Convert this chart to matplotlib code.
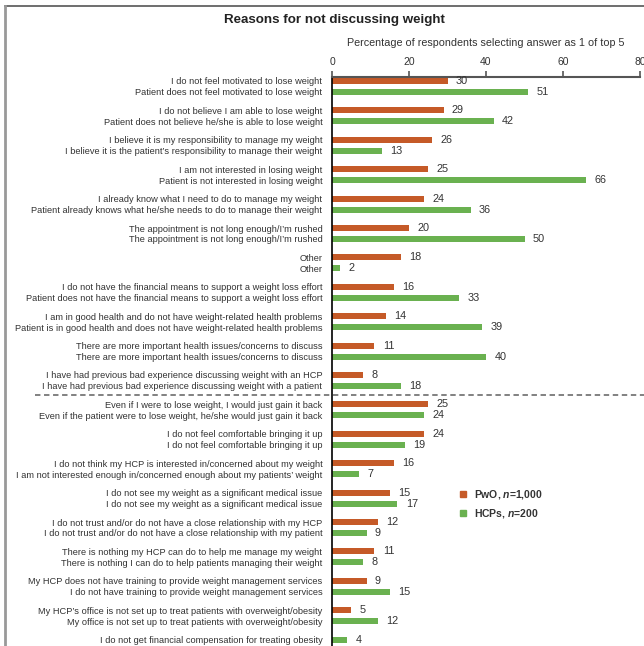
import matplotlib
matplotlib.use("Agg")
import matplotlib.pyplot as plt
from matplotlib.lines import Line2D
from matplotlib.transforms import blended_transform_factory

plt.rcParams["font.family"] = ["Liberation Sans", "DejaVu Sans"]
plt.rcParams["mathtext.fontset"] = "custom"
plt.rcParams["mathtext.it"] = "Liberation Sans:italic:bold"
plt.rcParams["mathtext.rm"] = "Liberation Sans:bold"

pwo_labels = [
    "I do not feel motivated to lose weight",
    "I do not believe I am able to lose weight",
    "I believe it is my responsibility to manage my weight",
    "I am not interested in losing weight",
    "I already know what I need to do to manage my weight",
    "The appointment is not long enough/I’m rushed",
    "Other",
    "I do not have the financial means to support a weight loss effort",
    "I am in good health and do not have weight-related health problems",
    "There are more important health issues/concerns to discuss",
    "I have had previous bad experience discussing weight with an HCP",
    "Even if I were to lose weight, I would just gain it back",
    "I do not feel comfortable bringing it up",
    "I do not think my HCP is interested in/concerned about my weight",
    "I do not see my weight as a significant medical issue",
    "I do not trust and/or do not have a close relationship with my HCP",
    "There is nothing my HCP can do to help me manage my weight",
    "My HCP does not have training to provide weight management services",
    "My HCP’s office is not set up to treat patients with overweight/obesity",
    None,
]
hcp_labels = [
    "Patient does not feel motivated to lose weight",
    "Patient does not believe he/she is able to lose weight",
    "I believe it is the patient’s responsibility to manage their weight",
    "Patient is not interested in losing weight",
    "Patient already knows what he/she needs to do to manage their weight",
    "The appointment is not long enough/I’m rushed",
    "Other",
    "Patient does not have the financial means to support a weight loss effort",
    "Patient is in good health and does not have weight-related health problems",
    "There are more important health issues/concerns to discuss",
    "I have had previous bad experience discussing weight with a patient",
    "Even if the patient were to lose weight, he/she would just gain it back",
    "I do not feel comfortable bringing it up",
    "I am not interested enough in/concerned enough about my patients’ weight",
    "I do not see my weight as a significant medical issue",
    "I do not trust and/or do not have a close relationship with my patient",
    "There is nothing I can do to help patients managing their weight",
    "I do not have training to provide weight management services",
    "My office is not set up to treat patients with overweight/obesity",
    "I do not get financial compensation for treating obesity",
]
pwo_values = [30, 29, 26, 25, 24, 20, 18, 16, 14, 11, 8,
              25, 24, 16, 15, 12, 11, 9, 5, None]
hcp_values = [51, 42, 13, 66, 36, 50, 2, 33, 39, 40, 18,
              24, 19, 7, 17, 9, 8, 15, 12, 4]
x_ticks = [0, 20, 40, 60, 80]

ORANGE = "#C55A28"
GREEN = "#6AB150"
TEXT = "#333333"
gap = 0.374     # distance between the PwO and HCP bar of one reason
bar_h = 0.21

fig = plt.figure(figsize=(6.44, 6.46), dpi=100)
ax = fig.add_axes([332 / 644, 0, 308 / 644, 1 - 77 / 646])

ytick_pos, ytick_lab = [], []
for i in range(len(hcp_values)):
    if pwo_values[i] is not None:
        y_hcp = i + gap
        ax.barh(i, pwo_values[i], height=bar_h, color=ORANGE)
        ax.annotate(str(pwo_values[i]), (pwo_values[i], i), xytext=(6, 0),
                    textcoords="offset points", va="center", ha="left",
                    fontsize=7.8, color=TEXT)
        ytick_pos.append(i)
        ytick_lab.append(pwo_labels[i])
    else:
        y_hcp = i
    ax.barh(y_hcp, hcp_values[i], height=bar_h, color=GREEN)
    ax.annotate(str(hcp_values[i]), (hcp_values[i], y_hcp), xytext=(6, 0),
                textcoords="offset points", va="center", ha="left",
                fontsize=7.8, color=TEXT)
    ytick_pos.append(y_hcp)
    ytick_lab.append(hcp_labels[i])

ax.set_xlim(0, 80)
ax.set_ylim((646 - 81) / 29.4, -4 / 29.4)
ax.set_xticks(x_ticks)
ax.xaxis.tick_top()
ax.xaxis.set_label_position("top")
ax.set_xlabel("Percentage of respondents selecting answer as 1 of top 5",
              fontsize=7.75, color=TEXT, labelpad=8)
ax.tick_params(axis="x", direction="out", length=4, width=1.2, color="#555555",
               labelsize=7.5, labelcolor=TEXT, pad=3)
ax.set_yticks(ytick_pos)
ax.set_yticklabels(ytick_lab)
ax.tick_params(axis="y", length=0, pad=7, labelsize=6.7, labelcolor=TEXT)

for side in ["right", "bottom"]:
    ax.spines[side].set_visible(False)
ax.spines["top"].set_color("#555555")
ax.spines["top"].set_linewidth(1.5)
ax.spines["left"].set_color("black")
ax.spines["left"].set_linewidth(1.2)

# dashed separator between the two blocks of reasons
trans = blended_transform_factory(ax.transAxes, ax.transData)
ax.plot([-0.964, 1.02], [10 + gap + 0.3, 10 + gap + 0.3], transform=trans,
        color="#777777", lw=1.3, ls=(0, (3, 2)), clip_on=False)

handles = [
    Line2D([], [], marker="s", ls="", color=ORANGE, markersize=5),
    Line2D([], [], marker="s", ls="", color=GREEN, markersize=5),
]
fig.legend(handles, ["PwO, $n$=1,000", "HCPs, $n$=200"], loc="upper left",
           bbox_to_anchor=(443 / 644, 1 - 479 / 646), frameon=False,
           prop={"size": 7.5, "weight": "bold"}, labelcolor=TEXT,
           handletextpad=0.1, labelspacing=0.55)

fig.text(334 / 644, 1 - 20 / 646, "Reasons for not discussing weight",
         ha="center", va="center", fontsize=9.6, fontweight="bold", color="#222222")

# outer frame lines
fig.add_artist(Line2D([5 / 644, 1], [1 - 6 / 646, 1 - 6 / 646],
                      transform=fig.transFigure, color="#555555", lw=1.2))
fig.add_artist(Line2D([5 / 644, 5 / 644], [0, 1 - 6 / 646],
                      transform=fig.transFigure, color="#999999", lw=2))

fig.savefig("out.png", dpi=100)
